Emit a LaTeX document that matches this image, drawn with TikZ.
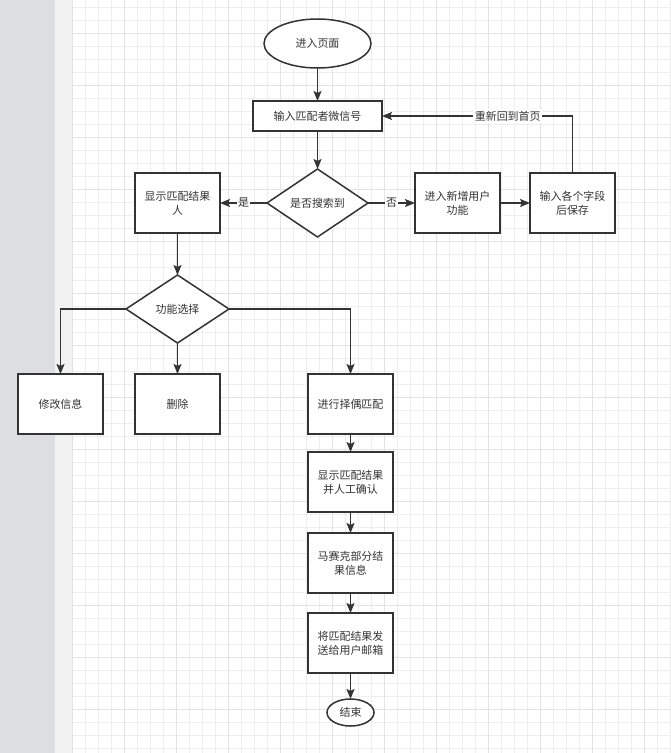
\documentclass[tikz,border=0pt]{standalone}
\usepackage{fontspec}
\newfontfamily\cjk{Noto Sans CJK SC}
\usepackage{tikz}
\usetikzlibrary{shapes,arrows.meta}
\usetikzlibrary{positioning,calc}
\definecolor{ink}{HTML}{333333}
\definecolor{panel}{RGB}{221,222,226}
\definecolor{strip}{RGB}{242,242,242}
\definecolor{gridminor}{RGB}{238,238,238}
\definecolor{gridmajor}{RGB}{227,227,227}
\tikzstyle{arrow}=[draw=ink, line width=1.5bp, -{Stealth[length=10bp,width=8bp,inset=2bp]}]

\begin{document}
\begin{tikzpicture}[
                x=1bp, y=-1bp,
                every node/.style={draw=ink, line width=1.5bp, outer sep=0pt, text=ink, align=center, font=\cjk\fontsize{11}{14}\selectfont},
                box/.style={rectangle, fill=white, minimum width=85bp, minimum height=60bp},
                term/.style={ellipse, fill=white},
                decision/.style={diamond, aspect=1.5, inner sep=0pt, fill=white, minimum width=101bp, minimum height=68bp},
                lbl/.style={draw=none, fill=white, inner sep=1.5bp}
            ]

                % Background: side panel and grid
                \useasboundingbox (0,0) rectangle (671,753);
                \fill[white] (0,0) rectangle (671,753);
                \fill[panel] (0,0) rectangle (55,753);
                \fill[strip] (55,0) rectangle (72,753);
                \foreach \gx in {72,85,...,671} \draw[gridminor, line width=0.8bp] (\gx,0) -- (\gx,753);
                \foreach \gy in {7,20,...,753} \draw[gridminor, line width=0.8bp] (72,\gy) -- (671,\gy);
                \foreach \gx in {72,124,...,671} \draw[gridmajor, line width=0.9bp] (\gx,0) -- (\gx,753);
                \foreach \gy in {33,85,...,753} \draw[gridmajor, line width=0.9bp] (72,\gy) -- (671,\gy);

                % Define Nodes
                \node (start) [term, minimum width=107bp, minimum height=49bp] at (317.5,43.5) {进入页面};

                \node (input) [box, minimum width=129bp, minimum height=30bp, below=33bp of start] {输入匹配者微信号};

                \node (search) [decision, below=38bp of input] {是否搜索到};

                \node (show) [box, left=47bp of search] {显示匹配结果\\人};

                \node (newuser) [box, right=47bp of search] {进入新增用户\\功能};

                \node (save) [box, right=30bp of newuser] {输入各个字段\\后保存};

                \node (func) [decision, minimum width=103bp, below=42bp of show] {功能选择};

                \node (delete) [box, below=31bp of func] {删除};

                \node (modify) [box, left=32bp of delete] {修改信息};

                \node (match) [box, right=88bp of delete] {进行择偶匹配};

                \node (confirm) [box, below=18bp of match] {显示匹配结果\\并人工确认};

                \node (mosaic) [box, below=21bp of confirm] {马赛克部分结\\果信息};

                \node (email) [box, below=20bp of mosaic] {将匹配结果发\\送给用户邮箱};

                \node (finish) [term, minimum width=47bp, minimum height=27bp, below=26bp of email] {结束};

                % Draw Arrows
                \draw[arrow] (start) -- (input);
                \draw[arrow] (input) -- (search);
                \draw[arrow] (search.west) -- node[lbl] {是} (show.east);
                \draw[arrow] (search.east) -- node[lbl] {否} (newuser.west);
                \draw[arrow] (newuser) -- (save);

                % Back to the input step
                \draw[arrow] (save.north) |- node[lbl, pos=0.67] {重新回到首页} (input.east);

                % Function branches
                \draw[arrow] (show) -- (func);
                \draw[arrow] (func.west) -| (modify.north);
                \draw[arrow] (func.south) -- (delete.north);
                \draw[arrow] (func.east) -| (match.north);

                % Matching chain
                \draw[arrow] (match) -- (confirm);
                \draw[arrow] (confirm) -- (mosaic);
                \draw[arrow] (mosaic) -- (email);
                \draw[arrow] (email) -- (finish);

            \end{tikzpicture}
\end{document}
